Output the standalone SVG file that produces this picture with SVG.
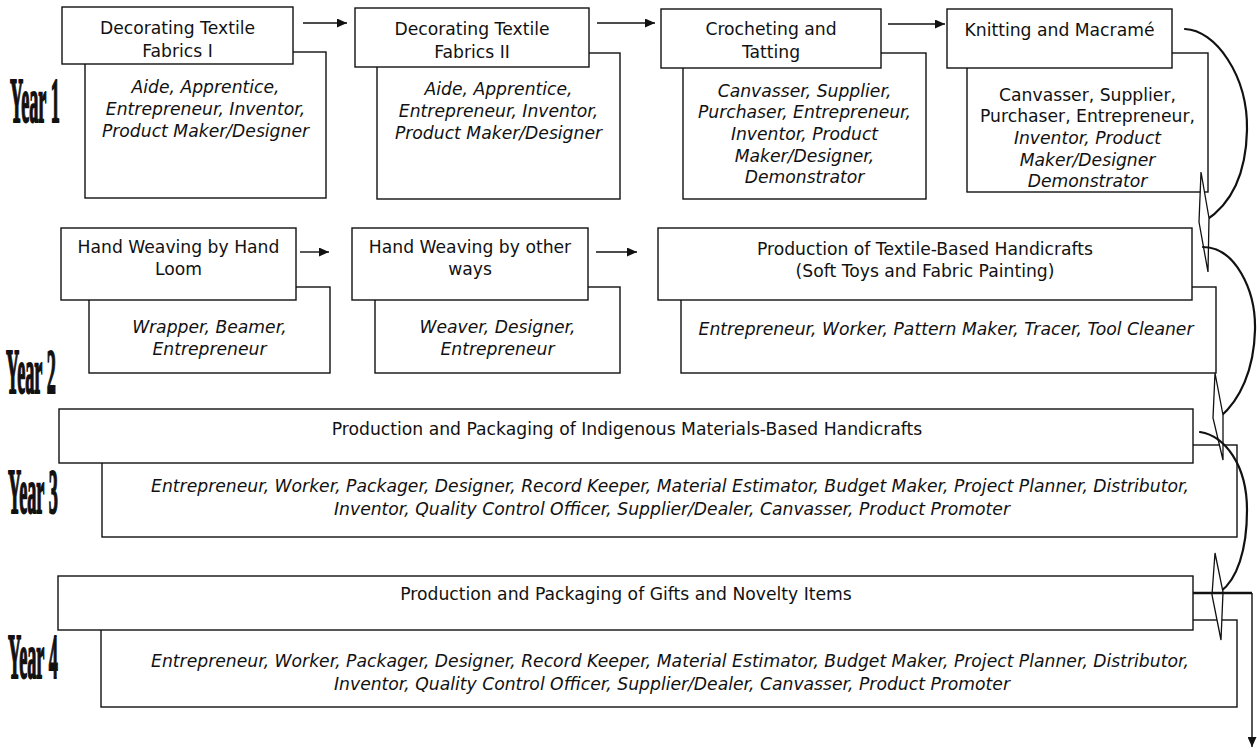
<svg xmlns="http://www.w3.org/2000/svg" width="1257" height="749" viewBox="0 0 1257 749">
<style>
  .box { fill:#fff; stroke:#111; stroke-width:1.4; }
  .t { font-family:"DejaVu Sans", Verdana, sans-serif; font-size:17.2px; fill:#111; text-anchor:middle; }
  .i { font-style:italic; }
  .yr { font-family:"Liberation Serif", "Times New Roman", serif; font-weight:bold; font-size:64px; fill:#111; stroke:#111; stroke-width:1.5; }
  .ln { fill:none; stroke:#111; stroke-width:1.4; }
  .cv { fill:none; stroke:#111; stroke-width:2.2; stroke-linecap:round; }
  .hd { fill:#fff; stroke:#111; stroke-width:1.3; stroke-linejoin:miter; }
</style>
<defs>
  <marker id="ah" markerUnits="userSpaceOnUse" markerWidth="11" markerHeight="9" refX="10" refY="4.5" orient="auto">
    <path d="M0,0 L10,4.5 L0,9 Z" fill="#111"/>
  </marker>
</defs>
<rect width="1257" height="749" fill="#fff"/>

<g id="year-labels">
  <text class="yr" vector-effect="non-scaling-stroke" transform="translate(10,122) scale(0.285,1)">Year 1</text>
  <text class="yr" vector-effect="non-scaling-stroke" transform="translate(6,393) scale(0.285,1)">Year 2</text>
  <text class="yr" vector-effect="non-scaling-stroke" transform="translate(8,513) scale(0.285,1)">Year 3</text>
  <text class="yr" vector-effect="non-scaling-stroke" transform="translate(8,678) scale(0.285,1)">Year 4</text>
</g>

<g id="n1">
  <rect class="box" x="85" y="52" width="241" height="146"/>
  <rect class="box" x="62" y="7" width="231" height="57"/>
  <text class="t" x="177.5" y="34">Decorating Textile</text>
  <text class="t" x="177.5" y="57">Fabrics I</text>
  <text class="t i" x="205.5" y="93">Aide, Apprentice,</text>
  <text class="t i" x="205.5" y="115">Entrepreneur, Inventor,</text>
  <text class="t i" x="205.5" y="137">Product Maker/Designer</text>
</g>

<g id="n2">
  <rect class="box" x="377" y="53" width="243" height="146"/>
  <rect class="box" x="355" y="8" width="234" height="59"/>
  <text class="t" x="472" y="35">Decorating Textile</text>
  <text class="t" x="472" y="58">Fabrics II</text>
  <text class="t i" x="498.5" y="95">Aide, Apprentice,</text>
  <text class="t i" x="498.5" y="117">Entrepreneur, Inventor,</text>
  <text class="t i" x="498.5" y="139">Product Maker/Designer</text>
</g>

<g id="n3">
  <rect class="box" x="683" y="53" width="243" height="146"/>
  <rect class="box" x="661" y="9" width="220" height="59"/>
  <text class="t" x="771" y="35">Crocheting and</text>
  <text class="t" x="771" y="58">Tatting</text>
  <text class="t i" x="804.5" y="97">Canvasser, Supplier,</text>
  <text class="t i" x="804.5" y="118">Purchaser, Entrepreneur,</text>
  <text class="t i" x="804.5" y="140">Inventor, Product</text>
  <text class="t i" x="804.5" y="162">Maker/Designer,</text>
  <text class="t i" x="804.5" y="183">Demonstrator</text>
</g>

<g id="n4">
  <rect class="box" x="967" y="53" width="241" height="139"/>
  <rect class="box" x="947" y="9" width="225" height="59"/>
  <text class="t" x="1059.5" y="36">Knitting and Macramé</text>
  <text class="t" x="1087.5" y="101">Canvasser, Supplier,</text>
  <text class="t" x="1087.5" y="122">Purchaser, Entrepreneur,</text>
  <text class="t i" x="1087.5" y="144">Inventor, Product</text>
  <text class="t i" x="1087.5" y="166">Maker/Designer</text>
  <text class="t i" x="1087.5" y="187">Demonstrator</text>
</g>

<g id="n5">
  <rect class="box" x="89" y="287" width="241" height="86"/>
  <rect class="box" x="61" y="228" width="235" height="72"/>
  <text class="t" x="178.5" y="253">Hand Weaving by Hand</text>
  <text class="t" x="178.5" y="275">Loom</text>
  <text class="t i" x="209.5" y="333">Wrapper, Beamer,</text>
  <text class="t i" x="209.5" y="355">Entrepreneur</text>
</g>

<g id="n6">
  <rect class="box" x="375" y="287" width="245" height="86"/>
  <rect class="box" x="352" y="228" width="236" height="72"/>
  <text class="t" x="470" y="253">Hand Weaving by other</text>
  <text class="t" x="470" y="275">ways</text>
  <text class="t i" x="497.5" y="333">Weaver, Designer,</text>
  <text class="t i" x="497.5" y="355">Entrepreneur</text>
</g>

<g id="n7">
  <rect class="box" x="681" y="287" width="535" height="86"/>
  <rect class="box" x="658" y="228" width="534" height="72"/>
  <text class="t" x="925" y="255">Production of Textile-Based Handicrafts</text>
  <text class="t" x="925" y="277">(Soft Toys and Fabric Painting)</text>
  <text class="t i" x="946" y="335">Entrepreneur, Worker, Pattern Maker, Tracer, Tool Cleaner</text>
</g>

<g id="n8">
  <rect class="box" x="102" y="445" width="1135" height="92"/>
  <rect class="box" x="59" y="409" width="1134" height="54"/>
  <text class="t" x="627" y="435">Production and Packaging of Indigenous Materials-Based Handicrafts</text>
  <text class="t i" x="670" y="492">Entrepreneur, Worker, Packager, Designer, Record Keeper, Material Estimator, Budget Maker, Project Planner, Distributor,</text>
  <text class="t i" x="672" y="515">Inventor, Quality Control Officer, Supplier/Dealer, Canvasser, Product Promoter</text>
</g>

<g id="n9">
  <rect class="box" x="101" y="620" width="1136" height="87"/>
  <rect class="box" x="58" y="576" width="1135" height="54"/>
  <text class="t" x="626" y="600">Production and Packaging of Gifts and Novelty Items</text>
  <text class="t i" x="670" y="667">Entrepreneur, Worker, Packager, Designer, Record Keeper, Material Estimator, Budget Maker, Project Planner, Distributor,</text>
  <text class="t i" x="672" y="690">Inventor, Quality Control Officer, Supplier/Dealer, Canvasser, Product Promoter</text>
</g>

<g id="connectors">
  <line class="ln" x1="303" y1="23" x2="347" y2="23" marker-end="url(#ah)"/>
  <line class="ln" x1="597" y1="23" x2="655" y2="23" marker-end="url(#ah)"/>
  <line class="ln" x1="888" y1="24" x2="945" y2="24" marker-end="url(#ah)"/>
  <line class="ln" x1="300" y1="252" x2="329" y2="252" marker-end="url(#ah)"/>
  <line class="ln" x1="596" y1="252" x2="637" y2="252" marker-end="url(#ah)"/>

  <path class="cv" d="M1185,29 C1215,30 1248,75 1247,130 C1246,175 1230,205 1205,221"/>
  <polygon class="hd" points="1201,172 1209,218 1208,272 1199,222"/>

  <path class="cv" d="M1203,247 C1235,247 1256,290 1255,330 C1254,370 1240,400 1220,417"/>
  <polygon class="hd" points="1215,373 1223,415 1223,460 1213,418"/>

  <path class="cv" d="M1200,432 C1225,436 1247,465 1247,510 C1247,550 1237,580 1220,592"/>
  <polygon class="hd" points="1215,553 1223,592 1221,640 1212,595"/>

  <path d="M1193,593 L1252,593" fill="none" stroke="#111" stroke-width="2.6"/>
  <path class="ln" d="M1252,593 L1252,747" marker-end="url(#ah)"/>
</g>
</svg>
